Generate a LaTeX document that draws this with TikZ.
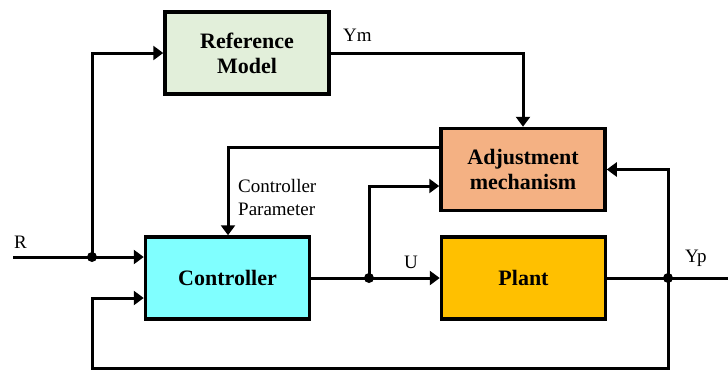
\documentclass[tikz,border=0pt]{standalone}
\usepackage{fontspec}
\setmainfont{Liberation Serif}
\usetikzlibrary{shapes, positioning, arrows.meta}

\definecolor{refgreen}{HTML}{E2EFDA}
\definecolor{adjorange}{HTML}{F4B183}
\definecolor{ctrlcyan}{HTML}{80FFFF}
\definecolor{plantyellow}{HTML}{FFC000}

\begin{document}
\begin{tikzpicture}[x=1pt, y=-1pt,
        block/.style={rectangle, draw, line width=3.5pt, minimum width=164pt, minimum height=82pt,
            inner sep=0pt, align=center, font=\fontsize{22}{25}\selectfont\bfseries},
        sig/.style={line width=3pt, -{Triangle[length=10pt, width=14pt]}},
        wire/.style={line width=3pt},
        dot/.style={circle, fill, inner sep=0pt, minimum size=10pt},
        lbl/.style={inner sep=0pt, font=\fontsize{19}{23}\selectfont}]
        \useasboundingbox (0,0) rectangle (728,370);

        \node[block, fill=refgreen] (ref) at (247, 53) {Reference\\Model};
        \node[block, fill=adjorange] (adj) at (523, 169.5) {Adjustment\\mechanism};
        \node[block, fill=ctrlcyan] (ctrl) at (227.5, 278) {Controller};
        \node[block, fill=plantyellow] (plant) at (523.5, 278) {Plant};

        % branch points and loose ends
        \coordinate (rin) at (13, 257);
        \coordinate (rj) at (92, 257);
        \coordinate (uj) at (369, 278);
        \coordinate (yj) at (668, 278);
        \coordinate (yout) at (741, 278);
        \coordinate (cp) at (228, 147);
        \coordinate (ua) at (369, 186);
        \coordinate (fb) at (92, 368.5);
        \coordinate (fbin) at (92, 298);

        \draw[wire] (rin) -- (rj);
        \draw[sig] (rj) -- (ctrl.west |- rj);
        \draw[sig] (rj) |- (ref.west);
        \draw[sig] (ref.east) -| (adj.north);
        \draw[sig] (adj.west |- cp) -- (cp) -- (ctrl.north -| cp);
        \draw[sig] (ctrl.east) -- (plant.west);
        \draw[sig] (uj) |- (adj.west |- ua);
        \draw[sig] (plant.east) -- (yout);
        \draw[sig] (yj) |- (adj.east);
        \draw[sig] (yj) |- (fb) -- (fbin) -- (ctrl.west |- fbin);

        \node[dot] (rdot) at (rj) {};
        \node[dot] (udot) at (uj) {};
        \node[dot] (ydot) at (yj) {};

        \node[lbl, anchor=base west] (rlbl) at (14, 248) {R};
        \node[lbl, anchor=base west] (ymlbl) at (343, 41) {Ym};
        \node[lbl, anchor=base west] (ulbl) at (404, 268) {U};
        \node[lbl, anchor=base west] (yplbl) at (685, 262) {Yp};
        \node[lbl, anchor=north west, align=left] (cplbl) at (238, 179) {Controller\\Parameter};
\end{tikzpicture}
\end{document}
